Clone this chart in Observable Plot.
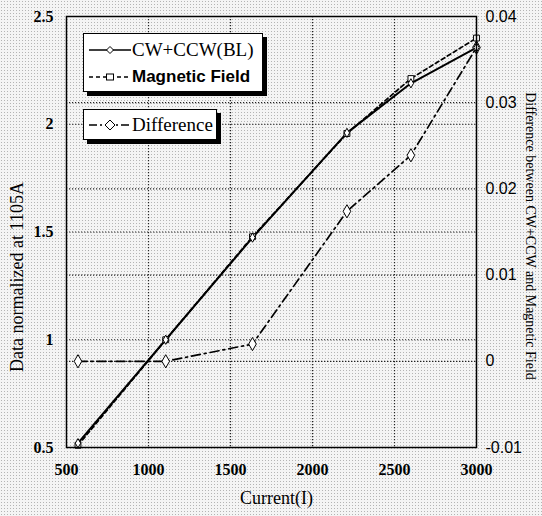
<!DOCTYPE html>
<html>
<head>
<meta charset="utf-8">
<script src="https://cdn.jsdelivr.net/npm/d3@7"></script>
<script src="https://cdn.jsdelivr.net/npm/@observablehq/plot@0.6"></script>
<style>
  html, body { margin: 0; padding: 0; }
  body {
    width: 542px; height: 516px; position: relative; overflow: hidden;
    background-color: #f4f4f4;
    background-image: radial-gradient(circle, #b4b4b4 0.45px, transparent 0.8px);
    background-size: 3px 3px;
  }
  #chart { position: absolute; left: 0; top: 0; }
  .legend {
    position: absolute; background: #fff; border: 1.5px solid #000;
    box-shadow: 4px 4px 0 #000; box-sizing: border-box;
  }
  .row { position: absolute; left: 4px; display: flex; align-items: center; white-space: nowrap; }
  .serif { font-family: "Liberation Serif", "DejaVu Serif", serif; font-size: 19px; }
  .sans { font-family: "Liberation Sans", Arial, sans-serif; font-size: 17px; font-weight: bold; }
</style>
</head>
<body>
<div id="chart"></div>
<div class="legend" style="left:83px;top:33px;width:180px;height:59px;">
  <div class="row serif" style="top:5px;">
    <svg width="44" height="16"><line x1="1" y1="8" x2="43" y2="8" stroke="#000" stroke-width="1.3"/><path d="M22,4.5 L25.5,8 L22,11.5 L18.5,8 Z" fill="#fff" stroke="#000" stroke-width="1"/></svg>
    <span>CW+CCW(BL)</span>
  </div>
  <div class="row sans" style="top:33px;">
    <svg width="44" height="16"><line x1="1" y1="8" x2="43" y2="8" stroke="#000" stroke-width="1.5" stroke-dasharray="4,3"/><rect x="18.5" y="5" width="7" height="6" fill="#fff" stroke="#000" stroke-width="1"/></svg>
    <span>Magnetic Field</span>
  </div>
</div>
<div class="legend" style="left:83px;top:109px;width:134px;height:31px;">
  <div class="row serif" style="top:4px;">
    <svg width="44" height="16"><line x1="1" y1="8" x2="43" y2="8" stroke="#000" stroke-width="1.3" stroke-dasharray="8,3,2,3"/><path d="M22,3 L27,8 L22,13 L17,8 Z" fill="#fff" stroke="#000" stroke-width="1"/></svg>
    <span>Difference</span>
  </div>
</div>
<script>
// ---- data ----
const current = [570, 1105, 1634, 2210, 2600, 3000];
const cwccw = [0.52, 1.0, 1.474, 1.96, 2.19, 2.356];
const magField = [0.51, 1.0, 1.478, 1.957, 2.212, 2.40];
const difference = [0.0, 0.0, 0.002, 0.0174, 0.0239, 0.0364];
const xTicks = [500, 1000, 1500, 2000, 2500, 3000];
const xTickLabels = ["500", "1000", "1500", "2000", "2500", "3000"];
const leftTicks = [0.5, 1, 1.5, 2, 2.5];
const leftTickLabels = ["0.5", "1", "1.5", "2", "2.5"];
const rightTicks = [-0.01, 0, 0.01, 0.02, 0.03, 0.04];
const rightTickLabels = ["-0.01", "0", "0.01", "0.02", "0.03", "0.04"];
const xGrid = [1000, 1500, 2000, 2500];
const leftGrid = [1, 1.5, 2];
const rightGrid = [0, 0.01, 0.02, 0.03];

// right axis [-0.01, 0.04] mapped onto left axis [0.5, 2.5]
const toLeft = d => 0.5 + (d + 0.01) * 40;

const rows = current.map((c, i) => ({c, a: cwccw[i], m: magField[i], d: toLeft(difference[i])}));

const serif = "Liberation Serif, DejaVu Serif, serif";
const sans = "Liberation Sans, Arial, sans-serif";

const plot = Plot.plot({
  width: 542, height: 516,
  marginLeft: 66, marginRight: 66, marginTop: 16, marginBottom: 69,
  style: {background: "transparent", color: "#000"},
  x: {domain: [500, 3000]},
  y: {domain: [0.5, 2.5]},
  marks: [
    Plot.gridX(xGrid, {stroke: "#222", strokeOpacity: 1, strokeWidth: 1.2, strokeDasharray: "1.2,1.8"}),
    Plot.gridY([...leftGrid, ...rightGrid.map(toLeft)], {stroke: "#222", strokeOpacity: 1, strokeWidth: 1.2, strokeDasharray: "1.2,1.8"}),
    Plot.line(rows, {x: "c", y: "d", stroke: "#000", strokeWidth: 1.7, strokeDasharray: "9,4,2,4"}),
    Plot.line(rows, {x: "c", y: "m", stroke: "#000", strokeWidth: 1.7, strokeDasharray: "4,3"}),
    Plot.line(rows, {x: "c", y: "a", stroke: "#000", strokeWidth: 2}),
    Plot.dot(rows, {x: "c", y: "d", symbol: "diamond", r: 4, fill: "#fff", stroke: "#000", strokeWidth: 1}),
    Plot.dot(rows, {x: "c", y: "m", symbol: "square", r: 3.3, fill: "#fff", stroke: "#000", strokeWidth: 1}),
    Plot.dot(rows, {x: "c", y: "a", symbol: "diamond", r: 2.8, fill: "#fff", stroke: "#000", strokeWidth: 1}),
    Plot.frame({stroke: "#000", strokeWidth: 1.5}),
    Plot.axisX(xTicks, {tickSize: 0, tickPadding: 16, fontSize: 16, fontFamily: serif, fontWeight: "bold", label: null,
      tickFormat: v => xTickLabels[xTicks.indexOf(v)]}),
    Plot.axisY(leftTicks, {anchor: "left", tickSize: 0, tickPadding: 13, fontSize: 16, fontFamily: serif, fontWeight: "bold", label: null,
      tickFormat: v => leftTickLabels[leftTicks.indexOf(v)]}),
    Plot.axisY(rightTicks.map(toLeft), {anchor: "right", tickSize: 0, tickPadding: 9, fontSize: 16, fontFamily: sans, label: null,
      tickFormat: v => rightTickLabels[rightTicks.findIndex(t => Math.abs(toLeft(t) - v) < 1e-9)]}),
    Plot.text(["Data normalized at 1105A"], {frameAnchor: "left", textAnchor: "middle", dx: -49, dy: 45, rotate: -90, fontSize: 18, fontFamily: serif}),
    Plot.text(["Difference between CW+CCW and Magnetic Field"], {frameAnchor: "right", textAnchor: "middle", dx: 54, dy: 4, rotate: 90, fontSize: 14, fontFamily: serif}),
    Plot.text(["Current(I)"], {frameAnchor: "bottom", textAnchor: "middle", dx: 5, dy: 56, fontSize: 18, fontFamily: serif})
  ]
});
document.getElementById("chart").appendChild(plot);
</script>
</body>
</html>
